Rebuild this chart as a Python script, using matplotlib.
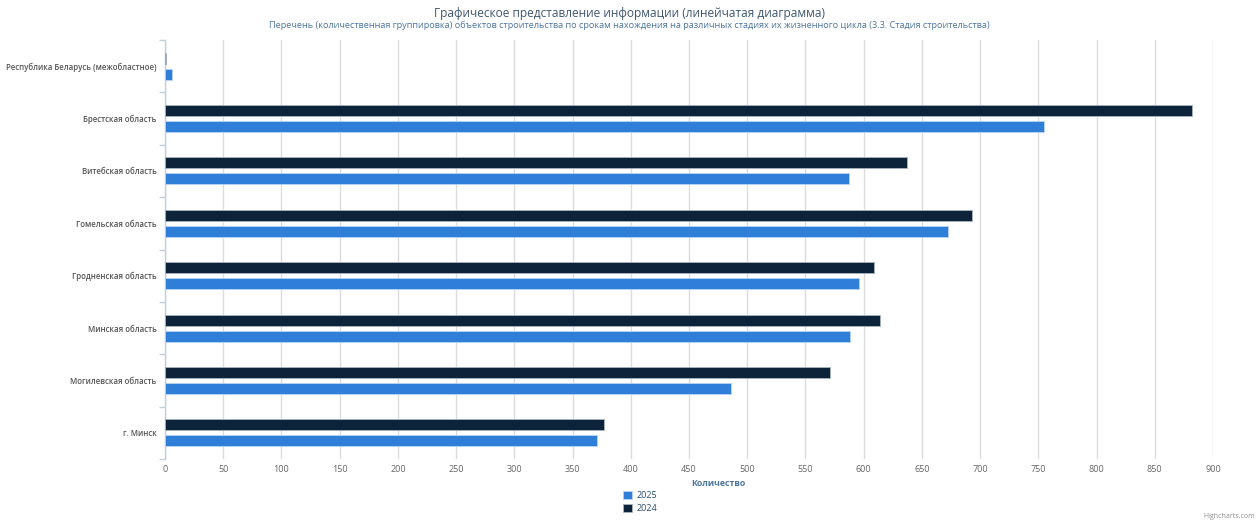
import matplotlib.pyplot as plt
import numpy as np

plt.rcParams['font.family'] = ['Open Sans', 'DejaVu Sans']

categories = ["Республика Беларусь (межобластное)", "Брестская область", "Витебская область",
              "Гомельская область", "Гродненская область", "Минская область",
              "Могилевская область", "г. Минск"]
values_2024 = [1, 882, 637, 693, 609, 614, 571, 377]
values_2025 = [6, 755, 587, 672, 596, 588, 486, 371]
x_ticks = list(range(0, 901, 50))

fig = plt.figure(figsize=(12.59, 5.22), dpi=100)
# plot area in pixels: left 165, right 1213, top 40, bottom 459
ax = fig.add_axes([165 / 1259, 1 - 459 / 522, (1213 - 165) / 1259, (459 - 40) / 522])

y = np.arange(len(categories))
h = 0.21
off = 0.153
ax.barh(y - off, values_2024, height=h, color="#0d233a", edgecolor="#a8b4c0", linewidth=0.6,
        label="2024", zorder=3)
ax.barh(y + off, values_2025, height=h, color="#2f7ed8", edgecolor="#b8d4f4", linewidth=0.6,
        label="2025", zorder=3)

ax.set_ylim(len(categories) - 0.5, -0.5)
ax.set_xlim(0, 900)
ax.set_yticks(y)
ax.set_yticklabels(categories, fontsize=5.7, color="#555555", fontweight="semibold")
ax.set_yticks(np.arange(len(categories) + 1) - 0.5, minor=True)
ax.tick_params(axis="y", which="major", length=0, pad=6)
ax.tick_params(axis="y", which="minor", length=4, color="#c0d0e0", width=1)

ax.set_xticks(x_ticks)
ax.set_xticklabels([str(v) for v in x_ticks], fontsize=6.5, color="#666666")
ax.tick_params(axis="x", length=0, pad=4)
ax.grid(axis="x", color="#dcdcdc", linewidth=1, zorder=0)

for s in ["top", "right", "bottom"]:
    ax.spines[s].set_visible(False)
ax.spines["left"].set_color("#c0d0e0")
ax.spines["left"].set_linewidth(1)

fig.text(718 / 1259, 1 - 483 / 522, "Количество", ha="center", va="center",
         fontsize=6.3, color="#4d759e", fontweight="bold")

fig.text(0.5, 1 - 14 / 522, "Графическое представление информации (линейчатая диаграмма)",
         ha="center", va="center", fontsize=8.6, color="#3e576f")
fig.text(0.5, 1 - 25 / 522,
         "Перечень (количественная группировка) объектов строительства по срокам нахождения на различных стадиях их жизненного цикла (3.3. Стадия строительства)",
         ha="center", va="center", fontsize=6.6, color="#4d759e")

handles, labels = ax.get_legend_handles_labels()
leg = fig.legend(handles[::-1], labels[::-1], loc="center", bbox_to_anchor=(640 / 1259, 1 - 502 / 522),
                 frameon=False, fontsize=6.5, ncol=1, handlelength=1.0, handleheight=1.0,
                 labelspacing=0.45, handletextpad=0.5)
for t in leg.get_texts():
    t.set_color("#274b6d")

fig.text(1 - 4 / 1259, 1 - 516 / 522, "Highcharts.com", ha="right", va="center",
         fontsize=5, color="#909090")

fig.savefig("out.png", dpi=100)
